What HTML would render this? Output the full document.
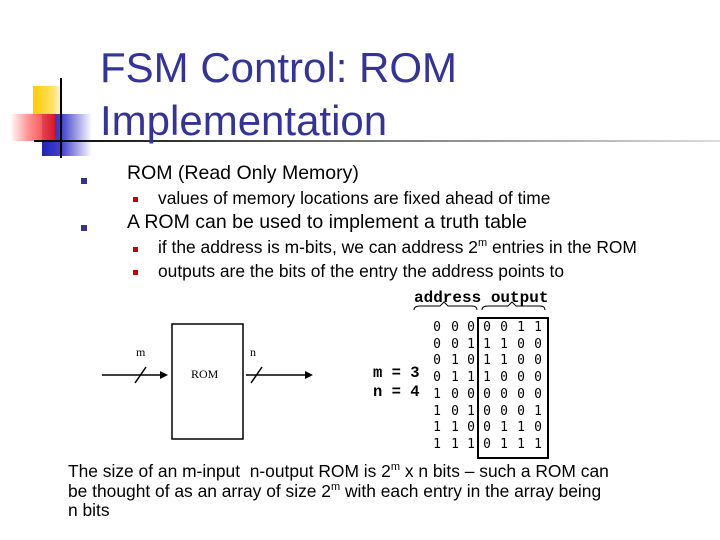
<!DOCTYPE html>
<html><head><meta charset="utf-8"><style>
body{margin:0;width:720px;height:540px;background:#fff;position:relative;overflow:hidden;font-family:"Liberation Sans",sans-serif;}
.a{position:absolute;white-space:nowrap;}
.t{color:#333399;font-size:42px;left:100px;}
.b1{font-size:19.5px;color:#000;}
.b2{font-size:17.4px;color:#000;}
.sq{position:absolute;width:6px;height:6px;}
.mono{font-family:"Liberation Mono",monospace;font-weight:bold;font-size:15px;}
.d{position:absolute;font-family:"DejaVu Sans Mono",monospace;font-size:13px;width:10px;text-align:center;}
</style></head><body>
<div style="position:absolute;left:33px;top:86px;width:28px;height:30px;background:linear-gradient(90deg,#ffcc00,#ffe066 70%,#fff5cc);"></div>
<div style="position:absolute;left:42px;top:114px;width:50px;height:42px;background:linear-gradient(90deg,#2222bb,#4444cc 40%,#ffffff);"></div>
<div style="position:absolute;left:10px;top:114px;width:45px;height:27px;background:linear-gradient(90deg,#fff 0%,#ff8888 40%,#ee1111);opacity:.9"></div>
<div style="position:absolute;left:60px;top:78px;width:2px;height:80px;background:#000;"></div>
<div style="position:absolute;left:34px;top:140px;width:686px;height:2px;background:linear-gradient(90deg,#000,#666 40%,#ddd);"></div>
<div class="a t" style="top:44px;">FSM Control: ROM</div>
<div class="a t" style="top:97px;">Implementation</div>

<div class="sq" style="left:81px;top:178px;background:#333399"></div>
<div class="a b1" style="left:127px;top:162px;">ROM (Read Only Memory)</div>
<div class="sq" style="left:133px;top:197px;width:5px;height:5px;background:#cc0000"></div>
<div class="a b2" style="left:158px;top:188px;">values of memory locations are fixed ahead of time</div>
<div class="sq" style="left:81px;top:225px;background:#333399"></div>
<div class="a b1" style="left:127px;top:211px;">A ROM can be used to implement a truth table</div>
<div class="sq" style="left:133px;top:247px;width:5px;height:5px;background:#cc0000"></div>
<div class="a b2" style="left:158px;top:237px;">if the address is m-bits, we can address 2<sup style="font-size:11px">m</sup> entries in the ROM</div>
<div class="sq" style="left:133px;top:270px;width:5px;height:5px;background:#cc0000"></div>
<div class="a b2" style="left:158px;top:261px;">outputs are the bits of the entry the address points to</div>

<div class="a mono" style="left:414px;top:289px;font-size:16px;">address output</div>
<svg style="position:absolute;left:0;top:0" width="720" height="540">
<path d="M414 310 q0 -4 6 -4 h20 l4 -4 l4 4 h24 q5 0 5 4" fill="none" stroke="#000"/>
<path d="M482 310 q0 -4 6 -4 h20 l4 -4 l4 4 h24 q5 0 5 4" fill="none" stroke="#000"/>
<rect x="478" y="318" width="70" height="140" fill="none" stroke="#000" stroke-width="2"/>
<rect x="172" y="324" width="71" height="115" fill="none" stroke="#000" stroke-width="1.5"/>
<line x1="102" y1="375" x2="162" y2="375" stroke="#000" stroke-width="1.5"/>
<polygon points="168,375 160,371 160,379" fill="#000"/>
<line x1="246" y1="375" x2="306" y2="375" stroke="#000" stroke-width="1.5"/>
<polygon points="313,375 305,371 305,379" fill="#000"/>
<line x1="135" y1="383" x2="146" y2="367" stroke="#000" stroke-width="1.5"/>
<line x1="251" y1="383" x2="262" y2="367" stroke="#000" stroke-width="1.5"/>
</svg>
<div class="a" style="left:136px;top:345px;font-family:'Liberation Serif',serif;font-size:12px;">m</div>
<div class="a" style="left:250px;top:345px;font-family:'Liberation Serif',serif;font-size:12px;">n</div>
<div class="a" style="left:191px;top:367px;font-family:'Liberation Serif',serif;font-size:12px;">ROM</div>
<div class="a mono" style="left:373px;top:364px;font-size:15.5px;">m = 3</div>
<div class="a mono" style="left:373px;top:383px;font-size:15.5px;">n = 4</div>
<div id="tb"></div>
<script>
var rows=["0000011","0011100","0101100","0111000","1000000","1010001","1100110","1110111"];
var xs=[437,455,471,487,504,521,538],h="";
rows.forEach(function(r,i){for(var j=0;j<7;j++)h+='<div class="d" style="left:'+(xs[j]-5)+'px;top:'+(320+i*16.7)+'px">'+r[j]+'</div>';});
document.getElementById('tb').innerHTML=h;
</script>
<div class="a b2" style="left:68px;top:461px;">The size of an m-input&nbsp; n-output ROM is 2<sup style="font-size:11px">m</sup> x n bits – such a ROM can</div>
<div class="a b2" style="left:68px;top:481px;">be thought of as an array of size 2<sup style="font-size:11px">m</sup> with each entry in the array being</div>
<div class="a b2" style="left:68px;top:500px;">n bits</div>
</body></html>
